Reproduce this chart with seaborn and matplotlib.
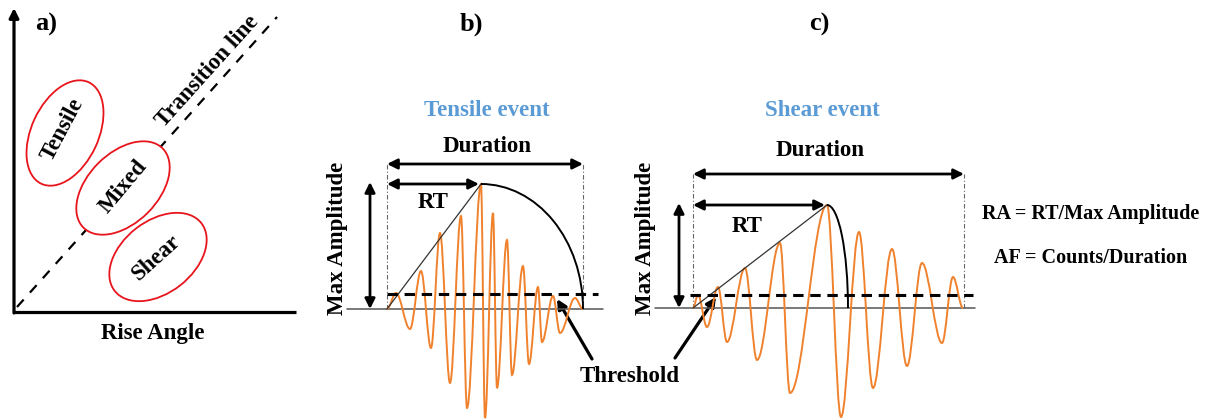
import numpy as np
import pandas as pd
import matplotlib
matplotlib.use("Agg")
import matplotlib.pyplot as plt
from matplotlib.patches import Ellipse, Arc, PathPatch
from matplotlib.path import Path
import seaborn as sns

# ---------------- data ----------------
# waveform extrema: time (px units from event start) and amplitude (px above baseline)
tensile_time = [0, 9, 23, 34, 44, 53, 63, 74, 80, 94, 98, 106, 110, 120, 125, 136, 142, 151, 155, 166, 173, 188, 196]
tensile_amp = [0, 16, -20, 38, -39, 76, -74, 93, -99, 125, -109, 96, -79, 69, -66, 43, -55, 22, -33, 13, -24, 11, 0]
tensile_threshold = 15
tensile_duration = 196

shear_time = [0, 5, 14, 25, 34, 52, 64, 87, 97, 134, 148, 166, 180, 199, 214, 229, 249, 260, 270]
shear_amp = [0, 13, -19, 21, -34, 40, -52, 65, -85, 103, -109, 76, -80, 59, -58, 45, -35, 31, 0]
shear_threshold = 13
shear_duration = 271
shear_decay_end = 155

region_labels = ["Tensile", "Mixed", "Shear"]
panel_labels = ["a)", "b)", "c)"]
event_titles = ["Tensile event", "Shear event"]
formulas = ["RA = RT/Max Amplitude", "AF = Counts/Duration"]

# ---------------- style ----------------
sns.set_theme(style="white")
plt.rcParams["font.family"] = ["Liberation Serif", "DejaVu Serif"]
plt.rcParams["font.weight"] = "bold"
plt.rcParams["text.color"] = "black"

ORANGE = "#F0822E"
BLUE = "#5B9BD5"
RED = "#E8141C"
FS = 16.5

W, H = 1213, 420
fig = plt.figure(figsize=(W / 100, H / 100), dpi=100)
ax = fig.add_axes([0, 0, 1, 1])
ax.set_xlim(0, W)
ax.set_ylim(H, 0)
ax.axis("off")


def panel_axes(x0, y0):
    a = fig.add_axes([0, 0, 1, 1], facecolor="none")
    a.set_xlim(-x0, W - x0)
    a.set_ylim(y0 - H, y0)
    a.axis("off")
    return a


def txt(a, x, y, s, size=FS, **kw):
    kw.setdefault("color", "black")
    a.text(x, y, s, ha="center", va="center", fontsize=size, fontweight="bold", **kw)


def arrow(a, p0, p1, style="<|-|>", lw=2.0, ms=15):
    a.annotate("", xy=p1, xytext=p0,
               arrowprops=dict(arrowstyle=style, lw=lw, color="black", mutation_scale=ms,
                               shrinkA=0, shrinkB=0))


def wave_path(t, amp, k=0.36):
    verts = [(t[0], amp[0])]
    codes = [Path.MOVETO]
    for i in range(len(t) - 1):
        dt = t[i + 1] - t[i]
        verts += [(t[i] + k * dt, amp[i]), (t[i + 1] - k * dt, amp[i + 1]), (t[i + 1], amp[i + 1])]
        codes += [Path.CURVE4] * 3
    return Path(verts, codes)


# ---------------- panel a ----------------
ax.plot([14, 296], [312, 312], color="black", lw=2.3, solid_capstyle="butt")
arrow(ax, (14, 313), (14, 8), style="-|>", lw=2.3, ms=14)
ax.plot([17, 277], [307, 17], color="black", lw=1.6, linestyle=(0, (4.5, 4.2)))

ell_specs = [((65, 133), 112, 67, -65), ((123, 188), 112, 70, -45), ((158, 257), 110, 72, -38)]
for (c, w, h, ang) in ell_specs:
    ax.add_patch(Ellipse(c, w, h, angle=ang, facecolor="white", edgecolor=RED, lw=1.3, zorder=3))
txt(ax, 63, 130, region_labels[0], rotation=62, zorder=4)
txt(ax, 123, 187, region_labels[1], rotation=50, zorder=4)
txt(ax, 156, 258, region_labels[2], rotation=42, zorder=4)
txt(ax, 208, 71, "Transition line", rotation=48)
txt(ax, 153, 333, "Rise Angle")
txt(ax, 46, 24, panel_labels[0], size=19)
txt(ax, 471, 24, panel_labels[1], size=19)
txt(ax, 819, 24, panel_labels[2], size=19)


# ---------------- panels b and c ----------------
def event_panel(a, t, amp, thr, dur, decay_end, base_ext, thr_ext, dur_y, amp_x, title, title_xy):
    ipk = int(np.argmax(amp))
    pk_t, pk_a = t[ipk], amp[ipk]
    # baseline
    sns.lineplot(x=[base_ext[0], base_ext[1]], y=[0, 0], ax=a, color="#555555", lw=1.1)
    # dotted verticals
    for xv in (0, dur):
        a.plot([xv, xv], [0, dur_y], color="#666666", lw=0.8, linestyle=(0, (4, 2, 1, 2)))
    # waveform
    a.add_patch(PathPatch(wave_path(t, amp), facecolor="none", edgecolor=ORANGE, lw=1.4, zorder=2))
    # threshold
    a.plot([thr_ext[0], thr_ext[1]], [thr, thr], color="black", lw=2.2,
           linestyle=(0, (3.4, 2.2)), zorder=3)
    # rise line
    sns.lineplot(x=[t[0], pk_t], y=[amp[0], pk_a], ax=a, color="#333333", lw=0.9)
    # decay arc
    a.add_patch(Arc((pk_t, 0), 2 * (decay_end - pk_t), 2 * pk_a, theta1=0, theta2=90,
                    color="black", lw=1.4, zorder=3))
    # arrows
    arrow(a, (0, dur_y), (dur, dur_y), lw=2.0)
    arrow(a, (0, pk_a), (pk_t - 2, pk_a), lw=2.0)
    arrow(a, (amp_x, 0), (amp_x, pk_a + 2), lw=2.0)
    txt(a, title_xy[0], title_xy[1], title, color=BLUE)


axb = panel_axes(387, 309)
event_panel(axb, tensile_time, tensile_amp, tensile_threshold, tensile_duration, tensile_duration,
            (-40, 216), (0, 211), 145, -17, event_titles[0], (100, 198))
txt(axb, 100, 162, "Duration")
txt(axb, 46, 107, "RT")
txt(axb, -50, 71, "Max Amplitude", rotation=90)

axc = panel_axes(693, 308)
event_panel(axc, shear_time, shear_amp, shear_threshold, shear_duration, shear_decay_end,
            (-38, 282), (-3, 280), 134, -14, event_titles[1], (129, 197))
txt(axc, 127, 158, "Duration")
txt(axc, 54, 81, "RT")
txt(axc, -48, 70, "Max Amplitude", rotation=90)

# threshold label and arrows
txt(ax, 630, 377, "Threshold")
arrow(ax, (592, 359), (557, 299), style="-|>", lw=2.3, ms=14)
arrow(ax, (675, 358), (716, 297), style="-|>", lw=2.3, ms=14)

# formulas
txt(ax, 1091, 214, formulas[0], size=14.5)
txt(ax, 1091, 258, formulas[1], size=14.5)

fig.savefig("out.png", dpi=100)
